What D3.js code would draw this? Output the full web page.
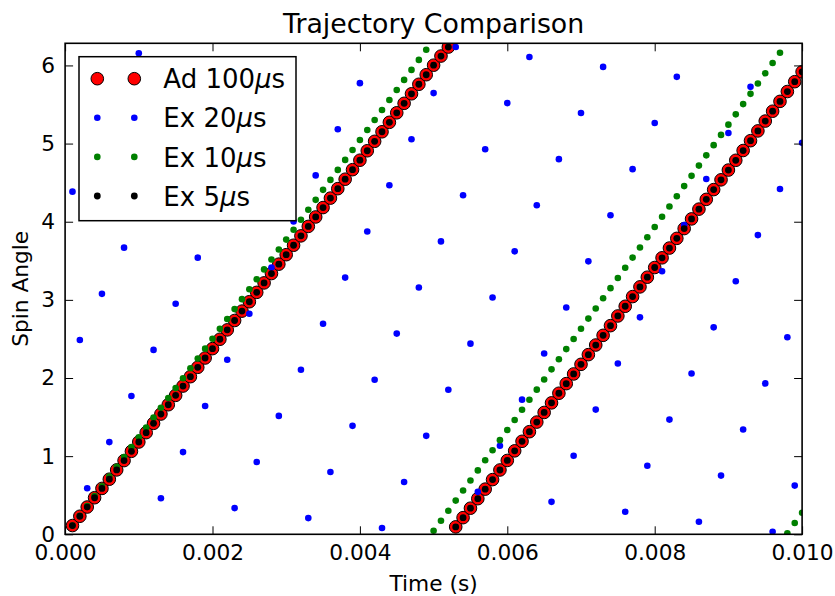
<!DOCTYPE html>
<html>
<head>
<meta charset="utf-8">
<script src="https://cdn.jsdelivr.net/npm/d3@7"></script>
<style>
  html, body { margin: 0; padding: 0; background: #fff; }
  svg { display: block; }
  text { font-family: "DejaVu Sans", sans-serif; fill: #000; }
</style>
</head>
<body>
<svg id="chart" width="835" height="596"></svg>
<script>
// ---- data ----
const timeValues = [
  0.0001,0.0002,0.0003,0.0004,0.0005,0.0006,0.0007,0.0008,0.0009,0.0010,
  0.0011,0.0012,0.0013,0.0014,0.0015,0.0016,0.0017,0.0018,0.0019,0.0020,
  0.0021,0.0022,0.0023,0.0024,0.0025,0.0026,0.0027,0.0028,0.0029,0.0030,
  0.0031,0.0032,0.0033,0.0034,0.0035,0.0036,0.0037,0.0038,0.0039,0.0040,
  0.0041,0.0042,0.0043,0.0044,0.0045,0.0046,0.0047,0.0048,0.0049,0.0050,
  0.0051,0.0052,0.0053,0.0054,0.0055,0.0056,0.0057,0.0058,0.0059,0.0060,
  0.0061,0.0062,0.0063,0.0064,0.0065,0.0066,0.0067,0.0068,0.0069,0.0070,
  0.0071,0.0072,0.0073,0.0074,0.0075,0.0076,0.0077,0.0078,0.0079,0.0080,
  0.0081,0.0082,0.0083,0.0084,0.0085,0.0086,0.0087,0.0088,0.0089,0.0090,
  0.0091,0.0092,0.0093,0.0094,0.0095,0.0096,0.0097,0.0098,0.0099,0.0100
];
const ad100Values = [
  0.112,0.231,0.349,0.468,0.587,0.705,0.824,0.943,1.062,1.181,
  1.301,1.420,1.539,1.658,1.778,1.897,2.017,2.137,2.256,2.376,
  2.496,2.616,2.736,2.856,2.976,3.096,3.217,3.337,3.457,3.578,
  3.699,3.819,3.940,4.061,4.181,4.302,4.423,4.544,4.666,4.787,
  4.908,5.029,5.151,5.272,5.394,5.515,5.637,5.759,5.881,6.003,
  6.120,6.235,0.095,0.213,0.334,0.456,0.578,0.700,0.823,0.945,
  1.068,1.190,1.313,1.436,1.559,1.682,1.805,1.928,2.052,2.175,
  2.299,2.422,2.546,2.670,2.794,2.918,3.042,3.166,3.290,3.414,
  3.538,3.663,3.787,3.912,4.036,4.161,4.286,4.411,4.536,4.661,
  4.786,4.911,5.037,5.162,5.288,5.414,5.540,5.666,5.792,5.918
];
const ex20Values = [
  4.385,2.487,0.590,4.975,3.077,1.180,5.565,3.668,1.770,6.155,
  4.258,2.360,0.462,4.848,2.950,1.052,5.438,3.540,1.642,6.028,
  4.130,2.233,0.335,4.720,2.823,0.925,5.310,3.413,1.515,5.901,
  4.003,2.105,0.207,4.593,2.695,0.798,5.183,3.285,1.388,5.773,
  3.875,1.978,0.080,4.466,2.568,0.670,5.056,3.158,1.260,5.646,
  3.748,1.850,6.236,4.338,2.440,0.543,4.928,3.031,1.133,5.518,
  3.621,1.723,6.108,4.211,2.313,0.415,4.801,2.903,1.005,5.391,
  3.493,1.596,5.981,4.083,2.186,0.288,4.673,2.776,0.878,5.264,
  3.366,1.468,5.854,3.956,2.058,0.161,4.546,2.648,0.751,5.136,
  3.238,1.341,5.726,3.829,1.931,0.033,4.419,2.521,0.623,5.009
];
const ex10Values = [
  0.112,0.237,0.362,0.488,0.613,0.739,0.864,0.990,1.116,1.241,
  1.367,1.493,1.619,1.745,1.871,1.997,2.124,2.250,2.376,2.503,
  2.629,2.756,2.882,3.009,3.136,3.263,3.390,3.517,3.644,3.771,
  3.898,4.025,4.153,4.280,4.408,4.535,4.663,4.791,4.918,5.046,
  5.174,5.302,5.430,5.558,5.686,5.815,5.943,6.071,6.200,0.045,
  0.174,0.302,0.431,0.560,0.689,0.818,0.947,1.076,1.205,1.334,
  1.463,1.593,1.722,1.851,1.981,2.111,2.240,2.370,2.500,2.630,
  2.760,2.890,3.020,3.150,3.280,3.411,3.541,3.671,3.802,3.933,
  4.063,4.194,4.325,4.456,4.587,4.718,4.849,4.980,5.111,5.242,
  5.374,5.505,5.636,5.768,5.900,6.031,6.163,0.012,0.144,0.276
];
const ex5Values = [
  0.112,0.231,0.349,0.468,0.587,0.705,0.824,0.943,1.062,1.181,
  1.301,1.420,1.539,1.658,1.778,1.897,2.017,2.137,2.256,2.376,
  2.496,2.616,2.736,2.856,2.976,3.096,3.217,3.337,3.457,3.578,
  3.699,3.819,3.940,4.061,4.181,4.302,4.423,4.544,4.666,4.787,
  4.908,5.029,5.151,5.272,5.394,5.515,5.637,5.759,5.881,6.003,
  6.120,6.235,0.095,0.213,0.334,0.456,0.578,0.700,0.823,0.945,
  1.068,1.190,1.313,1.436,1.559,1.682,1.805,1.928,2.052,2.175,
  2.299,2.422,2.546,2.670,2.794,2.918,3.042,3.166,3.290,3.414,
  3.538,3.663,3.787,3.912,4.036,4.161,4.286,4.411,4.536,4.661,
  4.786,4.911,5.037,5.162,5.288,5.414,5.540,5.666,5.792,5.918
];
const xTickValues = [0, 0.002, 0.004, 0.006, 0.008, 0.010];
const yTickValues = [0, 1, 2, 3, 4, 5, 6];
const xDomain = [0, 0.010];
const yDomain = [0, 2 * Math.PI];
const titleText = "Trajectory Comparison";
const xLabelText = "Time (s)";
const yLabelText = "Spin Angle";
const seriesNames = ["Ad 100", "Ex 20", "Ex 10", "Ex 5"];
const seriesColors = ["#ff0000", "#0000ff", "#008000", "#000000"];

// ---- layout ----
const W = 835, H = 596;
const L = 65.1, R = 802.1, T = 43.3, B = 534.3;
const svg = d3.select("#chart");

const x = d3.scaleLinear().domain(xDomain).range([L, R]);
const y = d3.scaleLinear().domain(yDomain).range([B, T]);

svg.append("rect").attr("width", W).attr("height", H).attr("fill", "#fff");

svg.append("clipPath").attr("id", "plotclip")
  .append("rect").attr("x", L).attr("y", T).attr("width", R - L).attr("height", B - T);

const series = [
  { name: seriesNames[0], values: ad100Values, color: seriesColors[0], r: 6.3, stroke: "#000", sw: 1 },
  { name: seriesNames[1], values: ex20Values, color: seriesColors[1], r: 3.3, stroke: "none", sw: 0 },
  { name: seriesNames[2], values: ex10Values, color: seriesColors[2], r: 3.3, stroke: "none", sw: 0 },
  { name: seriesNames[3], values: ex5Values, color: seriesColors[3], r: 3.4, stroke: "none", sw: 0 }
];

const plot = svg.append("g").attr("clip-path", "url(#plotclip)");
series.forEach(s => {
  plot.append("g").selectAll("circle")
    .data(s.values.map((v, i) => [timeValues[i], v]))
    .join("circle")
    .attr("cx", d => x(d[0]))
    .attr("cy", d => y(d[1]))
    .attr("r", s.r)
    .attr("fill", s.color)
    .attr("stroke", s.stroke)
    .attr("stroke-width", s.sw);
});

// ---- axes (inward ticks on all sides) ----
const fs = 21.7;
const tickLen = 8;
function styleAxis(g) {
  g.select(".domain").remove();
  g.selectAll(".tick line").attr("stroke", "#000").attr("stroke-width", 1);
  g.selectAll(".tick text").attr("font-size", fs).attr("font-family", "DejaVu Sans").attr("fill", "#000");
}
svg.append("g").attr("transform", `translate(0,${B})`)
  .call(d3.axisBottom(x).tickValues(xTickValues).tickFormat(d3.format(".3f"))
    .tickSizeInner(-tickLen).tickSizeOuter(0).tickPadding(10.5))
  .call(styleAxis);
svg.append("g").attr("transform", `translate(0,${T})`)
  .call(d3.axisTop(x).tickValues(xTickValues).tickFormat("")
    .tickSizeInner(-tickLen).tickSizeOuter(0))
  .call(styleAxis);
svg.append("g").attr("transform", `translate(${L},0)`)
  .call(d3.axisLeft(y).tickValues(yTickValues).tickFormat(d3.format("d"))
    .tickSizeInner(-tickLen).tickSizeOuter(0).tickPadding(10))
  .call(styleAxis);
svg.append("g").attr("transform", `translate(${R},0)`)
  .call(d3.axisRight(y).tickValues(yTickValues).tickFormat("")
    .tickSizeInner(-tickLen).tickSizeOuter(0))
  .call(styleAxis);

// frame
svg.append("rect").attr("x", L).attr("y", T).attr("width", R - L).attr("height", B - T)
  .attr("fill", "none").attr("stroke", "#000").attr("stroke-width", 1.6);

// ---- titles ----
svg.append("text").attr("x", (L + R) / 2).attr("y", 32.5)
  .attr("text-anchor", "middle").attr("font-size", 26.8).text(titleText);
svg.append("text").attr("x", (L + R) / 2).attr("y", 591)
  .attr("text-anchor", "middle").attr("font-size", fs).text(xLabelText);
svg.append("text").attr("transform", `translate(28,${(T + B) / 2}) rotate(-90)`)
  .attr("text-anchor", "middle").attr("font-size", fs).text(yLabelText);

// ---- legend ----
const lg = svg.append("g");
lg.append("rect").attr("x", 79).attr("y", 56.7).attr("width", 217).attr("height", 164)
  .attr("fill", "#fff").attr("stroke", "#000").attr("stroke-width", 1.5);
const rowY0 = 78.7, rowStep = 39.1;
series.forEach((s, i) => {
  const cy = rowY0 + i * rowStep;
  [97.3, 134.3].forEach(cx => {
    lg.append("circle").attr("cx", cx).attr("cy", cy).attr("r", s.r)
      .attr("fill", s.color).attr("stroke", s.stroke).attr("stroke-width", s.sw);
  });
  const t = lg.append("text").attr("x", 163.3).attr("y", cy + 9.6).attr("font-size", 26);
  t.append("tspan").text(s.name);
  t.append("tspan").attr("font-style", "italic").text("\u03bc");
  t.append("tspan").text("s");
});
</script>
</body>
</html>
